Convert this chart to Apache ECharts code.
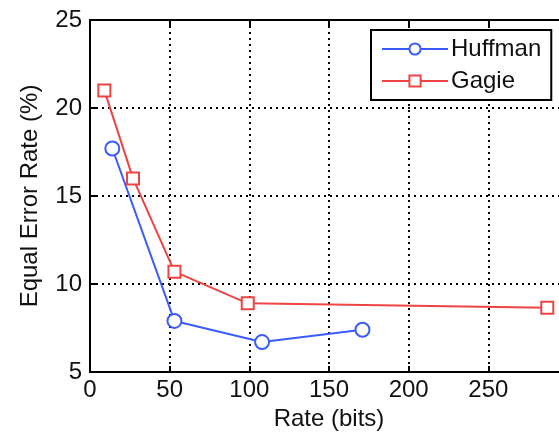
<!DOCTYPE html>
<html>
<head>
<meta charset="utf-8">
<script src="https://cdn.jsdelivr.net/npm/echarts@6/dist/echarts.min.js"></script>
<style>
  html, body { margin: 0; padding: 0; background: #fff; }
  #chart { width: 559px; height: 437px; }
</style>
</head>
<body>
<div id="chart"></div>
<script>
// values
const huffman = [[14, 17.7], [53, 7.9], [108, 6.7], [171, 7.4]]
const gagie = [[9, 21], [27, 16], [53, 10.7], [99, 8.9], [287, 8.65]]
const seriesNames = ['Huffman', 'Gagie']

const font = 'Liberation Sans, Arial, sans-serif'
const ink = '#111'

let myChart = echarts.init(document.getElementById('chart'))

let gridLine = {
  show: true,
  lineStyle: { color: '#000', width: 2, type: [2, 4] }
}

let option = {
  animation: false,
  backgroundColor: '#fff',
  textStyle: { fontFamily: font },
  grid: { left: 90, right: -9, top: 20, bottom: 65, outerBoundsMode: 'none', containLabel: false },
  legend: {
    data: seriesNames,
    orient: 'vertical',
    left: 371,
    top: 30,
    width: 187,
    padding: [7, 10, 7, 10],
    itemGap: 8,
    itemWidth: 66,
    itemHeight: 14,
    borderColor: '#000',
    borderWidth: 2,
    backgroundColor: '#fff',
    textStyle: { fontSize: 24, color: ink, fontFamily: font, padding: [0, 0, 0, -2] }
  },
  xAxis: [
    {
      type: 'value',
      min: 0,
      max: 300,
      interval: 50,
      name: 'Rate (bits)',
      nameLocation: 'middle',
      nameGap: 35,
      nameTextStyle: { fontSize: 24, color: ink },
      axisLine: { show: true, lineStyle: { color: '#000', width: 2 } },
      axisTick: { show: true, inside: true, length: 6, lineStyle: { color: '#000', width: 2 } },
      axisLabel: {
        fontSize: 24, color: ink, margin: 6,
        formatter: v => (v === 300 ? '' : v)
      },
      splitLine: gridLine
    },
    {
      type: 'value',
      position: 'top',
      min: 0,
      max: 300,
      interval: 50,
      axisLine: { show: true, lineStyle: { color: '#000', width: 2 } },
      axisTick: { show: true, inside: true, length: 6, lineStyle: { color: '#000', width: 2 } },
      axisLabel: { show: false },
      splitLine: { show: false }
    }
  ],
  yAxis: {
    type: 'value',
    min: 5,
    max: 25,
    interval: 5,
    name: 'Equal Error Rate (%)',
    nameLocation: 'middle',
    nameGap: 48,
    nameTextStyle: { fontSize: 24, color: ink },
    axisLine: { show: true, lineStyle: { color: '#000', width: 2 } },
    axisTick: { show: true, inside: true, length: 6, lineStyle: { color: '#000', width: 2 } },
    axisLabel: { fontSize: 24, color: ink, margin: 8 },
    splitLine: gridLine
  },
  series: [
    {
      name: seriesNames[0],
      type: 'line',
      data: huffman,
      symbol: 'circle',
      symbolSize: 14,
      color: '#3a5cff',
      lineStyle: { width: 2, color: '#3a5cff' },
      itemStyle: { color: '#fff', borderColor: '#3a5cff', borderWidth: 2 }
    },
    {
      name: seriesNames[1],
      type: 'line',
      data: gagie,
      symbol: 'rect',
      symbolSize: 12,
      color: '#ee4444',
      lineStyle: { width: 2, color: '#ee4444' },
      itemStyle: { color: '#fff', borderColor: '#ee4444', borderWidth: 2 }
    }
  ]
}

myChart.setOption(option)

window.addEventListener('resize', () => {
  myChart.resize()
})
</script>
</body>
</html>
